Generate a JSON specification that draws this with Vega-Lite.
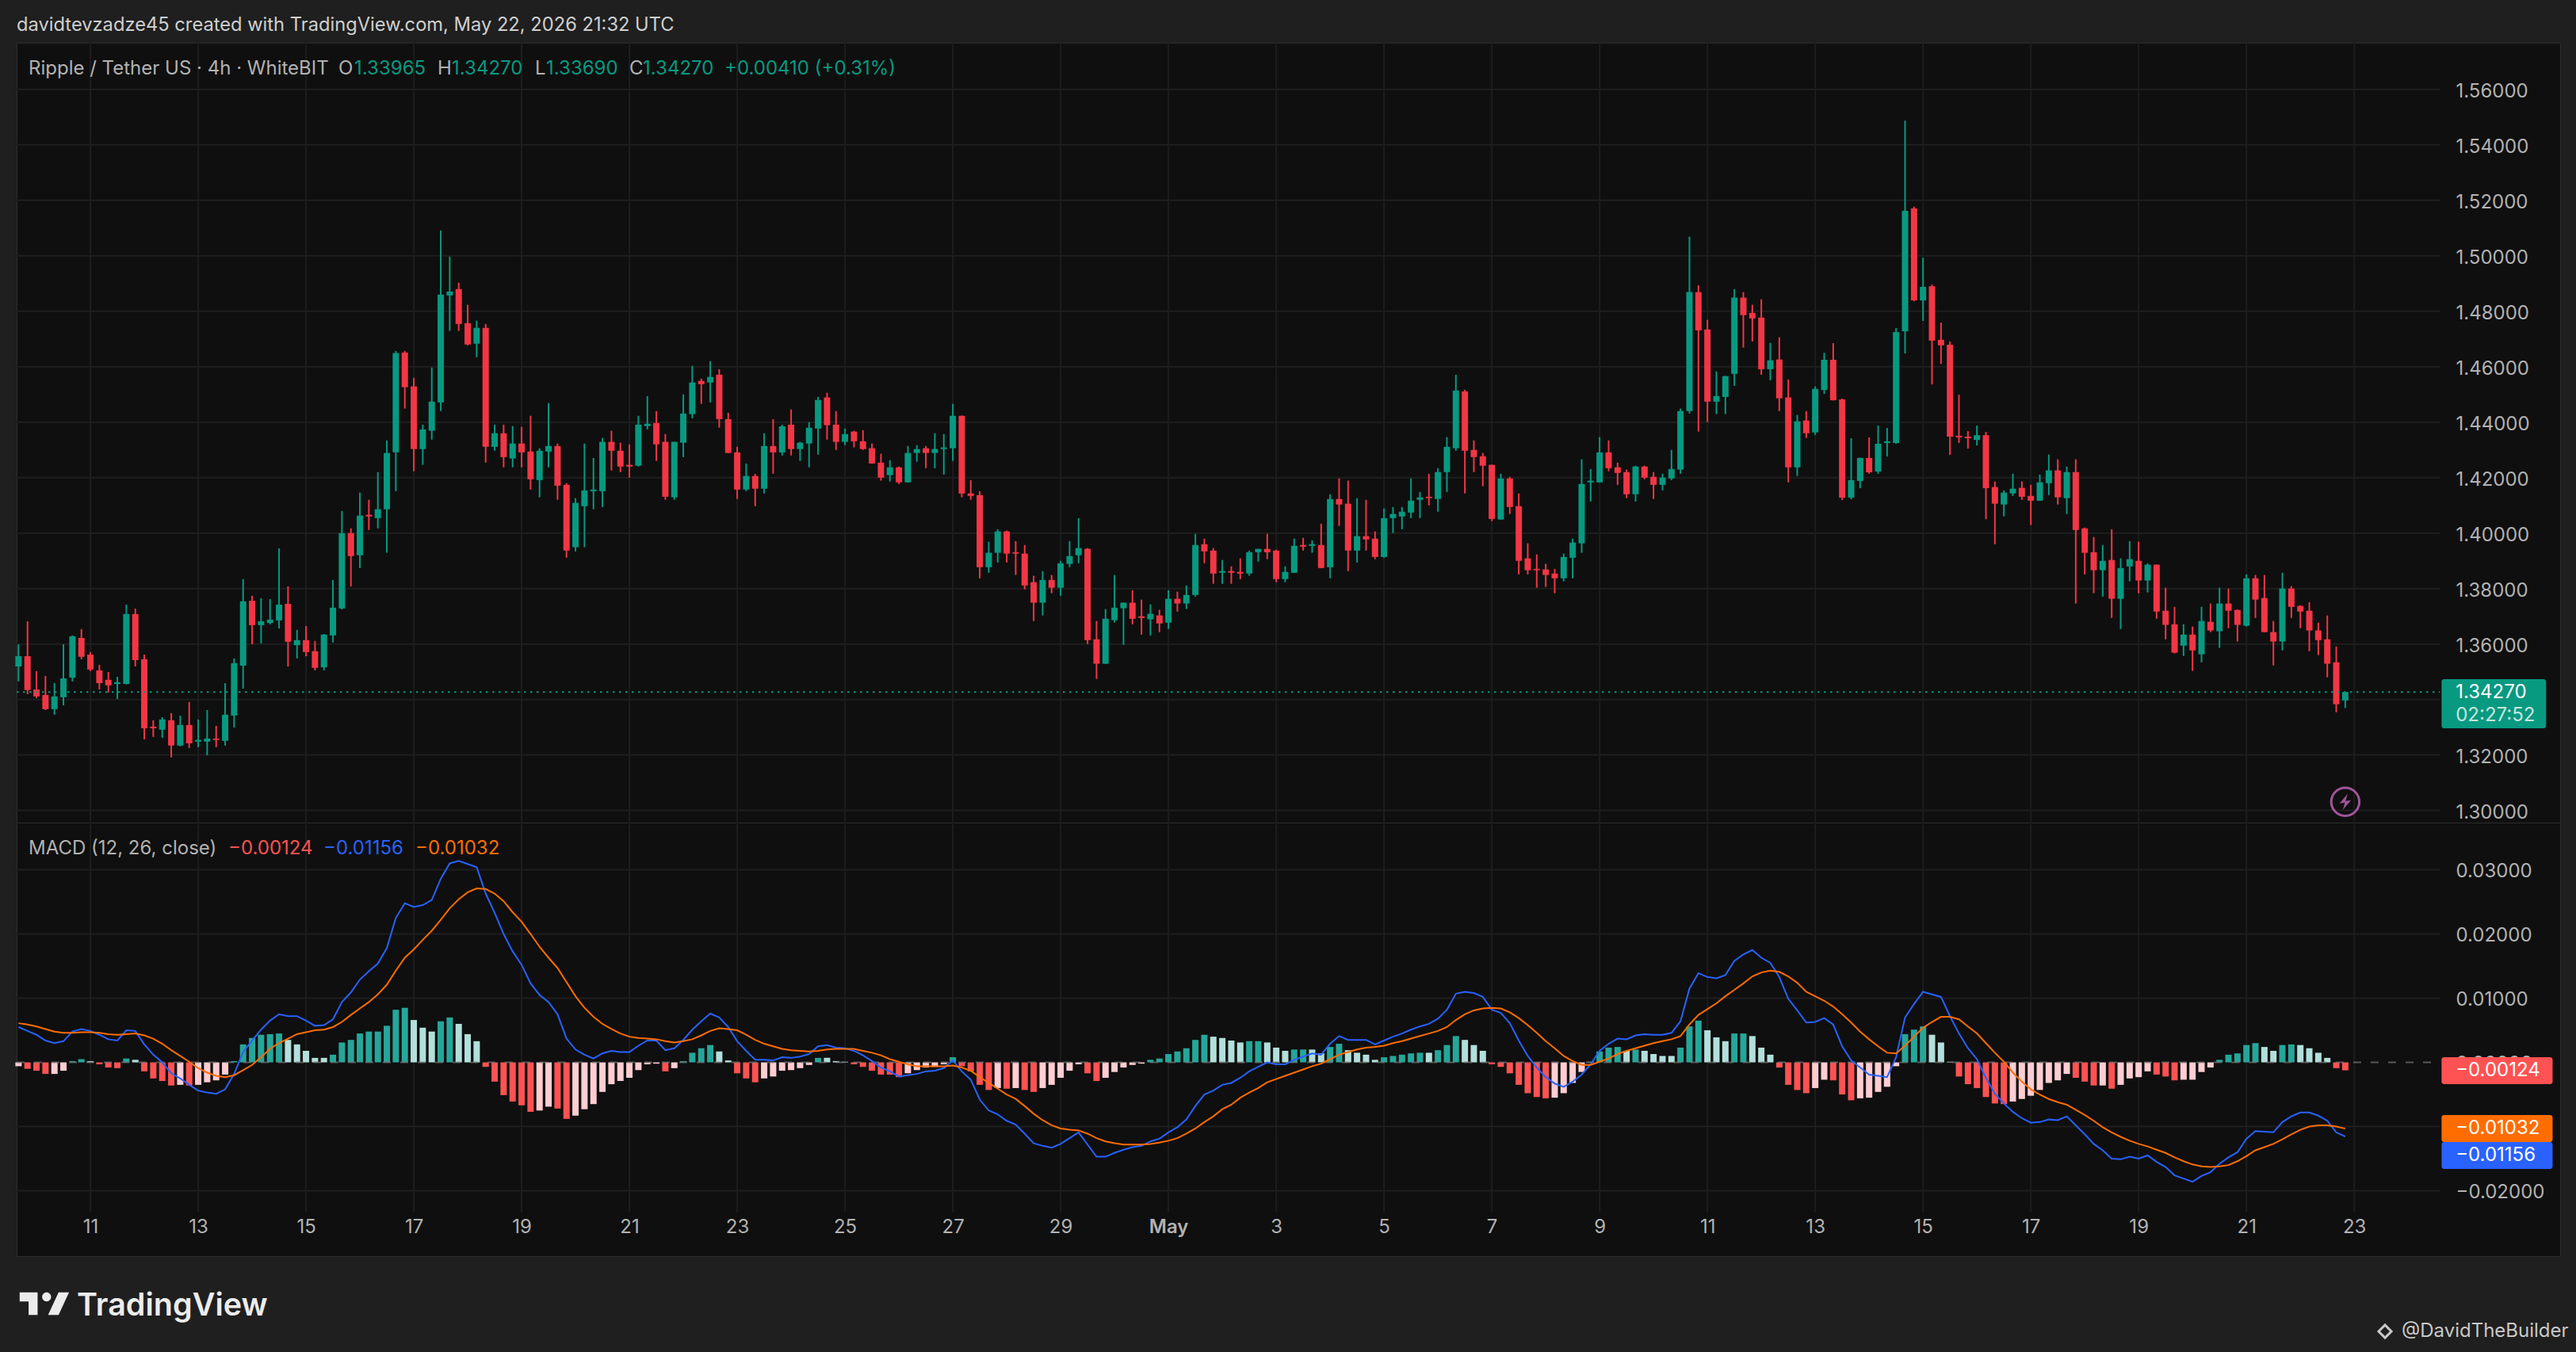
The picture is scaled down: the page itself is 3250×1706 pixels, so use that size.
{
"$schema":"https://vega.github.io/schema/vega-lite/v6.json",
"background":"#1f1f1f",
"padding":{"left":18,"right":0,"top":0,"bottom":0},
"spacing":0,
"bounds":"flush",
"resolve":{"scale":{"color":"independent"}},
"config":{"view":{"stroke":null},"text":{"font":"Inter"},"axis":{"labelFont":"Inter"}},
"datasets":{
"days":[{"t":"2026-04-11T00:00Z"},{"t":"2026-04-13T00:00Z"},{"t":"2026-04-15T00:00Z"},{"t":"2026-04-17T00:00Z"},{"t":"2026-04-19T00:00Z"},{"t":"2026-04-21T00:00Z"},{"t":"2026-04-23T00:00Z"},{"t":"2026-04-25T00:00Z"},{"t":"2026-04-27T00:00Z"},{"t":"2026-04-29T00:00Z"},{"t":"2026-05-01T00:00Z"},{"t":"2026-05-03T00:00Z"},{"t":"2026-05-05T00:00Z"},{"t":"2026-05-07T00:00Z"},{"t":"2026-05-09T00:00Z"},{"t":"2026-05-11T00:00Z"},{"t":"2026-05-13T00:00Z"},{"t":"2026-05-15T00:00Z"},{"t":"2026-05-17T00:00Z"},{"t":"2026-05-19T00:00Z"},{"t":"2026-05-21T00:00Z"},{"t":"2026-05-23T00:00Z"}],
"pgrid":[{"t":"2026-04-09T15:10Z","t2":"2026-05-24T14:08Z","p":1.30},{"t":"2026-04-09T15:10Z","t2":"2026-05-24T14:08Z","p":1.32},{"t":"2026-04-09T15:10Z","t2":"2026-05-24T14:08Z","p":1.34},{"t":"2026-04-09T15:10Z","t2":"2026-05-24T14:08Z","p":1.36},{"t":"2026-04-09T15:10Z","t2":"2026-05-24T14:08Z","p":1.38},{"t":"2026-04-09T15:10Z","t2":"2026-05-24T14:08Z","p":1.40},{"t":"2026-04-09T15:10Z","t2":"2026-05-24T14:08Z","p":1.42},{"t":"2026-04-09T15:10Z","t2":"2026-05-24T14:08Z","p":1.44},{"t":"2026-04-09T15:10Z","t2":"2026-05-24T14:08Z","p":1.46},{"t":"2026-04-09T15:10Z","t2":"2026-05-24T14:08Z","p":1.48},{"t":"2026-04-09T15:10Z","t2":"2026-05-24T14:08Z","p":1.50},{"t":"2026-04-09T15:10Z","t2":"2026-05-24T14:08Z","p":1.52},{"t":"2026-04-09T15:10Z","t2":"2026-05-24T14:08Z","p":1.54},{"t":"2026-04-09T15:10Z","t2":"2026-05-24T14:08Z","p":1.56}],
"mgrid":[{"t":"2026-04-09T15:10Z","t2":"2026-05-24T14:08Z","p":0.03},{"t":"2026-04-09T15:10Z","t2":"2026-05-24T14:08Z","p":0.02},{"t":"2026-04-09T15:10Z","t2":"2026-05-24T14:08Z","p":0.01},{"t":"2026-04-09T15:10Z","t2":"2026-05-24T14:08Z","p":-0.01},{"t":"2026-04-09T15:10Z","t2":"2026-05-24T14:08Z","p":-0.02}],
"pnote":[
{"t":"2026-04-09T20:28Z","p":1.5673,"label":"Ripple / Tether US · 4h · WhiteBIT","k":"gray"},
{"t":"2026-04-15T14:28Z","p":1.5673,"label":"O","k":"gray"},
{"t":"2026-04-15T21:32Z","p":1.5673,"label":"1.33965","k":"up"},
{"t":"2026-04-17T10:35Z","p":1.5673,"label":"H","k":"gray"},
{"t":"2026-04-17T16:56Z","p":1.5673,"label":"1.34270","k":"up"},
{"t":"2026-04-19T06:00Z","p":1.5673,"label":"L","k":"gray"},
{"t":"2026-04-19T10:56Z","p":1.5673,"label":"1.33690","k":"up"},
{"t":"2026-04-21T00:00Z","p":1.5673,"label":"C","k":"gray"},
{"t":"2026-04-21T06:00Z","p":1.5673,"label":"1.34270","k":"up"},
{"t":"2026-04-22T18:21Z","p":1.5673,"label":"+0.00410 (+0.31%)","k":"up"},
{"t":"2026-05-24T21:10Z","p":1.3426,"label":"1.34270","k":"white"},
{"t":"2026-05-24T21:10Z","p":1.3342,"label":"02:27:52","k":"dim"}],
"mnote":[
{"t":"2026-04-09T20:28Z","p":0.03327,"label":"MACD (12, 26, close)","k":"gray"},
{"t":"2026-04-13T13:25Z","p":0.03327,"label":"−0.00124","k":"D"},
{"t":"2026-04-15T07:46Z","p":0.03327,"label":"−0.01156","k":"blue"},
{"t":"2026-04-17T00:43Z","p":0.03327,"label":"−0.01032","k":"orange"}],
"mtags":[
{"t":"2026-05-24T14:53Z","t2":"2026-05-26T16:19Z","p":0.0008,"p2":-0.0034,"k":"D"},
{"t":"2026-05-24T14:53Z","t2":"2026-05-26T16:19Z","p":-0.0082,"p2":-0.0124,"k":"orange"},
{"t":"2026-05-24T14:53Z","t2":"2026-05-26T16:19Z","p":-0.0124,"p2":-0.0166,"k":"blue"}],
"mtagtext":[
{"t":"2026-05-24T21:10Z","p":-0.0013,"label":"−0.00124"},
{"t":"2026-05-24T21:10Z","p":-0.0103,"label":"−0.01032"},
{"t":"2026-05-24T21:10Z","p":-0.0145,"label":"−0.01156"}],
"bars":[
{"t":"2026-04-09T16:00Z","o":1.3519,"h":1.3599,"l":1.3465,"c":1.3556,"d":-0.0006,"m":0.0055,"s":0.0061,"k":"C"},
{"t":"2026-04-09T20:00Z","o":1.3556,"h":1.3682,"l":1.3419,"c":1.3434,"d":-0.001,"m":0.0049,"s":0.0059,"k":"D"},
{"t":"2026-04-10T00:00Z","o":1.3436,"h":1.3502,"l":1.3405,"c":1.3411,"d":-0.0013,"m":0.0043,"s":0.0056,"k":"D"},
{"t":"2026-04-10T04:00Z","o":1.3416,"h":1.3485,"l":1.3362,"c":1.3365,"d":-0.0018,"m":0.0034,"s":0.0052,"k":"D"},
{"t":"2026-04-10T08:00Z","o":1.3365,"h":1.3459,"l":1.3345,"c":1.3411,"d":-0.0018,"m":0.003,"s":0.0048,"k":"C"},
{"t":"2026-04-10T12:00Z","o":1.3408,"h":1.3599,"l":1.3379,"c":1.3476,"d":-0.0013,"m":0.0033,"s":0.0046,"k":"C"},
{"t":"2026-04-10T16:00Z","o":1.3479,"h":1.3631,"l":1.3465,"c":1.3628,"d":0.0002,"m":0.0048,"s":0.0046,"k":"A"},
{"t":"2026-04-10T20:00Z","o":1.3622,"h":1.3654,"l":1.3545,"c":1.3554,"d":0.0005,"m":0.0052,"s":0.0047,"k":"A"},
{"t":"2026-04-11T00:00Z","o":1.3562,"h":1.3571,"l":1.3502,"c":1.3508,"d":0.0002,"m":0.0049,"s":0.0047,"k":"B"},
{"t":"2026-04-11T04:00Z","o":1.3505,"h":1.3525,"l":1.3436,"c":1.3459,"d":-0.0003,"m":0.0043,"s":0.0046,"k":"D"},
{"t":"2026-04-11T08:00Z","o":1.3471,"h":1.3499,"l":1.3425,"c":1.3451,"d":-0.0008,"m":0.0036,"s":0.0044,"k":"D"},
{"t":"2026-04-11T12:00Z","o":1.3456,"h":1.3482,"l":1.3402,"c":1.3462,"d":-0.0009,"m":0.0034,"s":0.0043,"k":"D"},
{"t":"2026-04-11T16:00Z","o":1.3456,"h":1.3742,"l":1.3454,"c":1.3708,"d":0.0006,"m":0.005,"s":0.0044,"k":"A"},
{"t":"2026-04-11T20:00Z","o":1.3708,"h":1.3728,"l":1.3519,"c":1.3542,"d":0.0004,"m":0.0049,"s":0.0045,"k":"B"},
{"t":"2026-04-12T00:00Z","o":1.3545,"h":1.3562,"l":1.3256,"c":1.3296,"d":-0.0014,"m":0.0028,"s":0.0042,"k":"D"},
{"t":"2026-04-12T04:00Z","o":1.3302,"h":1.3325,"l":1.3265,"c":1.3296,"d":-0.0025,"m":0.0012,"s":0.0037,"k":"D"},
{"t":"2026-04-12T08:00Z","o":1.3291,"h":1.3336,"l":1.3262,"c":1.3328,"d":-0.0029,"m":0.0,"s":0.0029,"k":"D"},
{"t":"2026-04-12T12:00Z","o":1.3325,"h":1.3351,"l":1.3191,"c":1.3234,"d":-0.0036,"m":-0.0017,"s":0.0019,"k":"D"},
{"t":"2026-04-12T16:00Z","o":1.3234,"h":1.3342,"l":1.3231,"c":1.3308,"d":-0.0035,"m":-0.0025,"s":0.001,"k":"C"},
{"t":"2026-04-12T20:00Z","o":1.3308,"h":1.3391,"l":1.3225,"c":1.3242,"d":-0.0036,"m":-0.0035,"s":0.0001,"k":"D"},
{"t":"2026-04-13T00:00Z","o":1.3248,"h":1.3328,"l":1.3228,"c":1.3254,"d":-0.0035,"m":-0.0044,"s":-0.0009,"k":"C"},
{"t":"2026-04-13T04:00Z","o":1.3248,"h":1.3362,"l":1.3199,"c":1.3259,"d":-0.0031,"m":-0.0047,"s":-0.0016,"k":"C"},
{"t":"2026-04-13T08:00Z","o":1.3259,"h":1.3305,"l":1.3228,"c":1.3254,"d":-0.0028,"m":-0.0049,"s":-0.0021,"k":"C"},
{"t":"2026-04-13T12:00Z","o":1.3251,"h":1.3459,"l":1.3234,"c":1.3345,"d":-0.0019,"m":-0.0042,"s":-0.0023,"k":"C"},
{"t":"2026-04-13T16:00Z","o":1.3342,"h":1.3548,"l":1.3299,"c":1.3531,"d":0.0002,"m":-0.0018,"s":-0.002,"k":"A"},
{"t":"2026-04-13T20:00Z","o":1.3522,"h":1.3834,"l":1.3439,"c":1.3754,"d":0.0028,"m":0.0016,"s":-0.0012,"k":"A"},
{"t":"2026-04-14T00:00Z","o":1.3756,"h":1.3774,"l":1.3599,"c":1.3668,"d":0.0038,"m":0.0034,"s":-0.0004,"k":"A"},
{"t":"2026-04-14T04:00Z","o":1.3668,"h":1.3765,"l":1.3602,"c":1.3682,"d":0.0043,"m":0.0051,"s":0.0008,"k":"A"},
{"t":"2026-04-14T08:00Z","o":1.3676,"h":1.3762,"l":1.3671,"c":1.3688,"d":0.0044,"m":0.0065,"s":0.0021,"k":"A"},
{"t":"2026-04-14T12:00Z","o":1.3685,"h":1.3945,"l":1.3656,"c":1.3742,"d":0.0045,"m":0.0075,"s":0.003,"k":"A"},
{"t":"2026-04-14T16:00Z","o":1.3745,"h":1.3808,"l":1.3519,"c":1.3608,"d":0.0035,"m":0.0072,"s":0.0037,"k":"B"},
{"t":"2026-04-14T20:00Z","o":1.3596,"h":1.3651,"l":1.3548,"c":1.3614,"d":0.0028,"m":0.0072,"s":0.0044,"k":"B"},
{"t":"2026-04-15T00:00Z","o":1.3614,"h":1.3665,"l":1.3556,"c":1.3571,"d":0.0018,"m":0.0065,"s":0.0047,"k":"B"},
{"t":"2026-04-15T04:00Z","o":1.3574,"h":1.3611,"l":1.3505,"c":1.3514,"d":0.0007,"m":0.0057,"s":0.005,"k":"B"},
{"t":"2026-04-15T08:00Z","o":1.3516,"h":1.3636,"l":1.3505,"c":1.3634,"d":0.0007,"m":0.0058,"s":0.0051,"k":"B"},
{"t":"2026-04-15T12:00Z","o":1.3631,"h":1.3831,"l":1.3605,"c":1.3731,"d":0.0012,"m":0.0067,"s":0.0055,"k":"A"},
{"t":"2026-04-15T16:00Z","o":1.3728,"h":1.408,"l":1.3725,"c":1.4,"d":0.0031,"m":0.0094,"s":0.0063,"k":"A"},
{"t":"2026-04-15T20:00Z","o":1.4,"h":1.4017,"l":1.3808,"c":1.3917,"d":0.0035,"m":0.0109,"s":0.0074,"k":"A"},
{"t":"2026-04-16T00:00Z","o":1.392,"h":1.4146,"l":1.3874,"c":1.4063,"d":0.0045,"m":0.0129,"s":0.0084,"k":"A"},
{"t":"2026-04-16T04:00Z","o":1.4066,"h":1.412,"l":1.4011,"c":1.406,"d":0.0048,"m":0.0142,"s":0.0094,"k":"A"},
{"t":"2026-04-16T08:00Z","o":1.4054,"h":1.422,"l":1.4017,"c":1.4086,"d":0.0048,"m":0.0154,"s":0.0106,"k":"A"},
{"t":"2026-04-16T12:00Z","o":1.4086,"h":1.4334,"l":1.3929,"c":1.4289,"d":0.0057,"m":0.0178,"s":0.0121,"k":"A"},
{"t":"2026-04-16T16:00Z","o":1.4291,"h":1.4657,"l":1.4151,"c":1.4649,"d":0.0082,"m":0.0225,"s":0.0143,"k":"A"},
{"t":"2026-04-16T20:00Z","o":1.4651,"h":1.4657,"l":1.4449,"c":1.4526,"d":0.0085,"m":0.0248,"s":0.0163,"k":"A"},
{"t":"2026-04-17T00:00Z","o":1.4529,"h":1.456,"l":1.4223,"c":1.4303,"d":0.0066,"m":0.0242,"s":0.0176,"k":"B"},
{"t":"2026-04-17T04:00Z","o":1.4303,"h":1.4391,"l":1.4246,"c":1.4374,"d":0.0054,"m":0.0245,"s":0.0191,"k":"B"},
{"t":"2026-04-17T08:00Z","o":1.4369,"h":1.4597,"l":1.4337,"c":1.4474,"d":0.0048,"m":0.0253,"s":0.0205,"k":"B"},
{"t":"2026-04-17T12:00Z","o":1.4471,"h":1.5091,"l":1.444,"c":1.486,"d":0.0064,"m":0.0286,"s":0.0222,"k":"A"},
{"t":"2026-04-17T16:00Z","o":1.4857,"h":1.4997,"l":1.4729,"c":1.4871,"d":0.007,"m":0.031,"s":0.024,"k":"A"},
{"t":"2026-04-17T20:00Z","o":1.488,"h":1.4903,"l":1.4729,"c":1.4754,"d":0.006,"m":0.0314,"s":0.0254,"k":"B"},
{"t":"2026-04-18T00:00Z","o":1.4757,"h":1.4823,"l":1.4677,"c":1.468,"d":0.0044,"m":0.0309,"s":0.0265,"k":"B"},
{"t":"2026-04-18T04:00Z","o":1.4683,"h":1.4766,"l":1.4634,"c":1.474,"d":0.0033,"m":0.0304,"s":0.0271,"k":"B"},
{"t":"2026-04-18T08:00Z","o":1.474,"h":1.4754,"l":1.4254,"c":1.4311,"d":-0.0007,"m":0.0263,"s":0.027,"k":"D"},
{"t":"2026-04-18T12:00Z","o":1.4311,"h":1.4391,"l":1.4297,"c":1.436,"d":-0.003,"m":0.0233,"s":0.0263,"k":"D"},
{"t":"2026-04-18T16:00Z","o":1.436,"h":1.4391,"l":1.4237,"c":1.4274,"d":-0.0051,"m":0.02,"s":0.0251,"k":"D"},
{"t":"2026-04-18T20:00Z","o":1.4269,"h":1.4386,"l":1.4237,"c":1.4323,"d":-0.0061,"m":0.0173,"s":0.0234,"k":"D"},
{"t":"2026-04-19T00:00Z","o":1.4323,"h":1.4383,"l":1.4237,"c":1.4291,"d":-0.0067,"m":0.0152,"s":0.0219,"k":"D"},
{"t":"2026-04-19T04:00Z","o":1.4294,"h":1.4423,"l":1.4157,"c":1.4194,"d":-0.0077,"m":0.0123,"s":0.02,"k":"D"},
{"t":"2026-04-19T08:00Z","o":1.4191,"h":1.4306,"l":1.4129,"c":1.4297,"d":-0.0075,"m":0.0105,"s":0.018,"k":"C"},
{"t":"2026-04-19T12:00Z","o":1.4294,"h":1.4469,"l":1.4237,"c":1.4314,"d":-0.0069,"m":0.0094,"s":0.0163,"k":"C"},
{"t":"2026-04-19T16:00Z","o":1.4314,"h":1.4323,"l":1.412,"c":1.4171,"d":-0.0072,"m":0.0075,"s":0.0147,"k":"D"},
{"t":"2026-04-19T20:00Z","o":1.4174,"h":1.418,"l":1.3911,"c":1.3937,"d":-0.0088,"m":0.0037,"s":0.0125,"k":"D"},
{"t":"2026-04-20T00:00Z","o":1.3949,"h":1.4126,"l":1.3934,"c":1.4109,"d":-0.0083,"m":0.002,"s":0.0103,"k":"C"},
{"t":"2026-04-20T04:00Z","o":1.4097,"h":1.4323,"l":1.3949,"c":1.4154,"d":-0.0073,"m":0.0012,"s":0.0085,"k":"C"},
{"t":"2026-04-20T08:00Z","o":1.4151,"h":1.4271,"l":1.4086,"c":1.4157,"d":-0.0065,"m":0.0006,"s":0.0071,"k":"C"},
{"t":"2026-04-20T12:00Z","o":1.4151,"h":1.4343,"l":1.4094,"c":1.4329,"d":-0.0046,"m":0.0014,"s":0.006,"k":"C"},
{"t":"2026-04-20T16:00Z","o":1.4329,"h":1.4369,"l":1.4226,"c":1.4297,"d":-0.0034,"m":0.0018,"s":0.0052,"k":"C"},
{"t":"2026-04-20T20:00Z","o":1.4297,"h":1.4326,"l":1.422,"c":1.424,"d":-0.0029,"m":0.0016,"s":0.0045,"k":"C"},
{"t":"2026-04-21T00:00Z","o":1.4246,"h":1.432,"l":1.42,"c":1.424,"d":-0.0024,"m":0.0016,"s":0.004,"k":"C"},
{"t":"2026-04-21T04:00Z","o":1.4243,"h":1.4423,"l":1.424,"c":1.4391,"d":-0.0012,"m":0.0026,"s":0.0038,"k":"C"},
{"t":"2026-04-21T08:00Z","o":1.4386,"h":1.4494,"l":1.4374,"c":1.4394,"d":-0.0003,"m":0.0034,"s":0.0037,"k":"C"},
{"t":"2026-04-21T12:00Z","o":1.4397,"h":1.444,"l":1.426,"c":1.432,"d":-0.0002,"m":0.0034,"s":0.0036,"k":"C"},
{"t":"2026-04-21T16:00Z","o":1.4329,"h":1.4357,"l":1.412,"c":1.4131,"d":-0.0014,"m":0.0019,"s":0.0033,"k":"D"},
{"t":"2026-04-21T20:00Z","o":1.4129,"h":1.4329,"l":1.412,"c":1.4329,"d":-0.0009,"m":0.0022,"s":0.0031,"k":"C"},
{"t":"2026-04-22T00:00Z","o":1.4326,"h":1.45,"l":1.4274,"c":1.4431,"d":0.0002,"m":0.0035,"s":0.0033,"k":"A"},
{"t":"2026-04-22T04:00Z","o":1.4429,"h":1.4603,"l":1.4414,"c":1.4543,"d":0.0015,"m":0.0051,"s":0.0036,"k":"A"},
{"t":"2026-04-22T08:00Z","o":1.4549,"h":1.4557,"l":1.4466,"c":1.4537,"d":0.0022,"m":0.0064,"s":0.0042,"k":"A"},
{"t":"2026-04-22T12:00Z","o":1.4543,"h":1.462,"l":1.4471,"c":1.4563,"d":0.0027,"m":0.0076,"s":0.0049,"k":"A"},
{"t":"2026-04-22T16:00Z","o":1.4571,"h":1.4591,"l":1.438,"c":1.4411,"d":0.0017,"m":0.007,"s":0.0053,"k":"B"},
{"t":"2026-04-22T20:00Z","o":1.4411,"h":1.4434,"l":1.4288,"c":1.4289,"d":0.0003,"m":0.0055,"s":0.0052,"k":"B"},
{"t":"2026-04-23T00:00Z","o":1.4291,"h":1.4311,"l":1.4123,"c":1.4157,"d":-0.0017,"m":0.0033,"s":0.005,"k":"D"},
{"t":"2026-04-23T04:00Z","o":1.4157,"h":1.4251,"l":1.4151,"c":1.4206,"d":-0.0025,"m":0.0018,"s":0.0043,"k":"D"},
{"t":"2026-04-23T08:00Z","o":1.4206,"h":1.4214,"l":1.4097,"c":1.416,"d":-0.0031,"m":0.0004,"s":0.0035,"k":"D"},
{"t":"2026-04-23T12:00Z","o":1.416,"h":1.436,"l":1.4143,"c":1.4314,"d":-0.0025,"m":0.0004,"s":0.0029,"k":"C"},
{"t":"2026-04-23T16:00Z","o":1.4314,"h":1.4411,"l":1.4214,"c":1.4291,"d":-0.0022,"m":0.0003,"s":0.0025,"k":"C"},
{"t":"2026-04-23T20:00Z","o":1.4291,"h":1.4391,"l":1.428,"c":1.4385,"d":-0.0013,"m":0.0008,"s":0.0021,"k":"C"},
{"t":"2026-04-24T00:00Z","o":1.4391,"h":1.4446,"l":1.428,"c":1.4303,"d":-0.0012,"m":0.0007,"s":0.0019,"k":"C"},
{"t":"2026-04-24T04:00Z","o":1.4303,"h":1.4329,"l":1.426,"c":1.4326,"d":-0.0009,"m":0.0009,"s":0.0018,"k":"C"},
{"t":"2026-04-24T08:00Z","o":1.4323,"h":1.44,"l":1.4237,"c":1.438,"d":-0.0004,"m":0.0013,"s":0.0017,"k":"C"},
{"t":"2026-04-24T12:00Z","o":1.4377,"h":1.4491,"l":1.4283,"c":1.448,"d":0.0007,"m":0.0025,"s":0.0018,"k":"A"},
{"t":"2026-04-24T16:00Z","o":1.4489,"h":1.4506,"l":1.4337,"c":1.4389,"d":0.0007,"m":0.0027,"s":0.002,"k":"B"},
{"t":"2026-04-24T20:00Z","o":1.4391,"h":1.444,"l":1.43,"c":1.4329,"d":0.0002,"m":0.0023,"s":0.0021,"k":"B"},
{"t":"2026-04-25T00:00Z","o":1.4329,"h":1.4377,"l":1.4317,"c":1.4357,"d":0.0001,"m":0.0022,"s":0.0021,"k":"B"},
{"t":"2026-04-25T04:00Z","o":1.4366,"h":1.4369,"l":1.4309,"c":1.4331,"d":-0.0003,"m":0.0018,"s":0.0021,"k":"D"},
{"t":"2026-04-25T08:00Z","o":1.4331,"h":1.4371,"l":1.43,"c":1.4303,"d":-0.0007,"m":0.0011,"s":0.0018,"k":"D"},
{"t":"2026-04-25T12:00Z","o":1.4306,"h":1.4323,"l":1.425,"c":1.4251,"d":-0.0013,"m":0.0002,"s":0.0015,"k":"D"},
{"t":"2026-04-25T16:00Z","o":1.4254,"h":1.4286,"l":1.4189,"c":1.42,"d":-0.0019,"m":-0.0008,"s":0.0011,"k":"D"},
{"t":"2026-04-25T20:00Z","o":1.4209,"h":1.4263,"l":1.4186,"c":1.4237,"d":-0.0019,"m":-0.0014,"s":0.0005,"k":"D"},
{"t":"2026-04-26T00:00Z","o":1.4237,"h":1.424,"l":1.4177,"c":1.4183,"d":-0.0023,"m":-0.0022,"s":0.0001,"k":"D"},
{"t":"2026-04-26T04:00Z","o":1.4183,"h":1.4314,"l":1.4182,"c":1.4289,"d":-0.0017,"m":-0.002,"s":-0.0003,"k":"C"},
{"t":"2026-04-26T08:00Z","o":1.4289,"h":1.4317,"l":1.4257,"c":1.4303,"d":-0.0012,"m":-0.0018,"s":-0.0006,"k":"C"},
{"t":"2026-04-26T12:00Z","o":1.4306,"h":1.4314,"l":1.4234,"c":1.4289,"d":-0.0008,"m":-0.0014,"s":-0.0006,"k":"C"},
{"t":"2026-04-26T16:00Z","o":1.4289,"h":1.436,"l":1.4234,"c":1.4303,"d":-0.0007,"m":-0.0013,"s":-0.0006,"k":"C"},
{"t":"2026-04-26T20:00Z","o":1.4303,"h":1.4357,"l":1.4211,"c":1.4309,"d":-0.0003,"m":-0.0009,"s":-0.0006,"k":"C"},
{"t":"2026-04-27T00:00Z","o":1.4306,"h":1.4466,"l":1.426,"c":1.4423,"d":0.0008,"m":0.0003,"s":-0.0005,"k":"A"},
{"t":"2026-04-27T04:00Z","o":1.4423,"h":1.4424,"l":1.4129,"c":1.4143,"d":-0.0006,"m":-0.0014,"s":-0.0008,"k":"D"},
{"t":"2026-04-27T08:00Z","o":1.4143,"h":1.4191,"l":1.412,"c":1.4134,"d":-0.0014,"m":-0.0027,"s":-0.0013,"k":"D"},
{"t":"2026-04-27T12:00Z","o":1.4137,"h":1.4151,"l":1.3837,"c":1.3877,"d":-0.0035,"m":-0.0058,"s":-0.0023,"k":"D"},
{"t":"2026-04-27T16:00Z","o":1.3877,"h":1.3969,"l":1.3857,"c":1.3929,"d":-0.0043,"m":-0.0075,"s":-0.0032,"k":"D"},
{"t":"2026-04-27T20:00Z","o":1.3929,"h":1.4014,"l":1.3894,"c":1.4006,"d":-0.004,"m":-0.0081,"s":-0.0041,"k":"C"},
{"t":"2026-04-28T00:00Z","o":1.4006,"h":1.4009,"l":1.3894,"c":1.3926,"d":-0.0041,"m":-0.0091,"s":-0.005,"k":"D"},
{"t":"2026-04-28T04:00Z","o":1.3931,"h":1.3971,"l":1.3849,"c":1.3926,"d":-0.004,"m":-0.0097,"s":-0.0057,"k":"C"},
{"t":"2026-04-28T08:00Z","o":1.3926,"h":1.3957,"l":1.3797,"c":1.3811,"d":-0.0043,"m":-0.0111,"s":-0.0068,"k":"D"},
{"t":"2026-04-28T12:00Z","o":1.3823,"h":1.3846,"l":1.3683,"c":1.3749,"d":-0.0046,"m":-0.0126,"s":-0.008,"k":"D"},
{"t":"2026-04-28T16:00Z","o":1.3749,"h":1.3863,"l":1.3703,"c":1.3831,"d":-0.004,"m":-0.013,"s":-0.009,"k":"C"},
{"t":"2026-04-28T20:00Z","o":1.3831,"h":1.3849,"l":1.3783,"c":1.3803,"d":-0.0035,"m":-0.0133,"s":-0.0098,"k":"C"},
{"t":"2026-04-29T00:00Z","o":1.3803,"h":1.39,"l":1.3774,"c":1.3891,"d":-0.0024,"m":-0.0127,"s":-0.0103,"k":"C"},
{"t":"2026-04-29T04:00Z","o":1.3889,"h":1.3971,"l":1.3877,"c":1.3917,"d":-0.0013,"m":-0.0118,"s":-0.0105,"k":"C"},
{"t":"2026-04-29T08:00Z","o":1.392,"h":1.4054,"l":1.3891,"c":1.3946,"d":-0.0003,"m":-0.0109,"s":-0.0106,"k":"C"},
{"t":"2026-04-29T12:00Z","o":1.3943,"h":1.3946,"l":1.36,"c":1.3614,"d":-0.0017,"m":-0.0128,"s":-0.0111,"k":"D"},
{"t":"2026-04-29T16:00Z","o":1.3617,"h":1.3683,"l":1.3474,"c":1.3529,"d":-0.0029,"m":-0.0147,"s":-0.0118,"k":"D"},
{"t":"2026-04-29T20:00Z","o":1.3529,"h":1.3726,"l":1.3528,"c":1.3691,"d":-0.0024,"m":-0.0147,"s":-0.0123,"k":"C"},
{"t":"2026-04-30T00:00Z","o":1.3686,"h":1.3849,"l":1.3677,"c":1.3731,"d":-0.0015,"m":-0.0141,"s":-0.0126,"k":"C"},
{"t":"2026-04-30T04:00Z","o":1.3729,"h":1.375,"l":1.3597,"c":1.3749,"d":-0.0008,"m":-0.0136,"s":-0.0128,"k":"C"},
{"t":"2026-04-30T08:00Z","o":1.3749,"h":1.3794,"l":1.3671,"c":1.3691,"d":-0.0004,"m":-0.0132,"s":-0.0128,"k":"C"},
{"t":"2026-04-30T12:00Z","o":1.37,"h":1.376,"l":1.3634,"c":1.3694,"d":-0.0002,"m":-0.013,"s":-0.0128,"k":"C"},
{"t":"2026-04-30T16:00Z","o":1.3689,"h":1.3743,"l":1.3631,"c":1.3709,"d":0.0004,"m":-0.0123,"s":-0.0127,"k":"A"},
{"t":"2026-04-30T20:00Z","o":1.3703,"h":1.3723,"l":1.3643,"c":1.3674,"d":0.0006,"m":-0.0119,"s":-0.0125,"k":"A"},
{"t":"2026-05-01T00:00Z","o":1.3677,"h":1.3794,"l":1.3654,"c":1.3763,"d":0.0013,"m":-0.0109,"s":-0.0122,"k":"A"},
{"t":"2026-05-01T04:00Z","o":1.3763,"h":1.3789,"l":1.3717,"c":1.3746,"d":0.0017,"m":-0.0101,"s":-0.0118,"k":"A"},
{"t":"2026-05-01T08:00Z","o":1.3746,"h":1.3811,"l":1.3726,"c":1.3777,"d":0.0022,"m":-0.0089,"s":-0.0111,"k":"A"},
{"t":"2026-05-01T12:00Z","o":1.3777,"h":1.3997,"l":1.3771,"c":1.3957,"d":0.0035,"m":-0.0068,"s":-0.0103,"k":"A"},
{"t":"2026-05-01T16:00Z","o":1.396,"h":1.398,"l":1.3891,"c":1.3934,"d":0.0043,"m":-0.005,"s":-0.0093,"k":"A"},
{"t":"2026-05-01T20:00Z","o":1.3937,"h":1.3946,"l":1.3817,"c":1.3854,"d":0.004,"m":-0.0044,"s":-0.0084,"k":"B"},
{"t":"2026-05-02T00:00Z","o":1.3857,"h":1.3903,"l":1.3817,"c":1.3863,"d":0.0038,"m":-0.0035,"s":-0.0073,"k":"B"},
{"t":"2026-05-02T04:00Z","o":1.3863,"h":1.388,"l":1.3817,"c":1.3857,"d":0.0034,"m":-0.0032,"s":-0.0066,"k":"B"},
{"t":"2026-05-02T08:00Z","o":1.386,"h":1.3909,"l":1.3834,"c":1.3854,"d":0.0031,"m":-0.0024,"s":-0.0055,"k":"B"},
{"t":"2026-05-02T12:00Z","o":1.3854,"h":1.3937,"l":1.3846,"c":1.3931,"d":0.0033,"m":-0.0014,"s":-0.0047,"k":"A"},
{"t":"2026-05-02T16:00Z","o":1.3931,"h":1.3943,"l":1.3897,"c":1.3943,"d":0.0033,"m":-0.0007,"s":-0.004,"k":"A"},
{"t":"2026-05-02T20:00Z","o":1.3943,"h":1.3997,"l":1.3906,"c":1.3931,"d":0.0031,"m":0.0,"s":-0.0031,"k":"B"},
{"t":"2026-05-03T00:00Z","o":1.3937,"h":1.394,"l":1.3823,"c":1.3834,"d":0.0023,"m":-0.0003,"s":-0.0026,"k":"B"},
{"t":"2026-05-03T04:00Z","o":1.3834,"h":1.388,"l":1.3823,"c":1.386,"d":0.0018,"m":-0.0003,"s":-0.0021,"k":"B"},
{"t":"2026-05-03T08:00Z","o":1.3857,"h":1.398,"l":1.3856,"c":1.3954,"d":0.002,"m":0.0004,"s":-0.0016,"k":"A"},
{"t":"2026-05-03T12:00Z","o":1.3957,"h":1.3983,"l":1.3937,"c":1.3951,"d":0.002,"m":0.0009,"s":-0.0011,"k":"A"},
{"t":"2026-05-03T16:00Z","o":1.3954,"h":1.3974,"l":1.3929,"c":1.396,"d":0.002,"m":0.0014,"s":-0.0006,"k":"B"},
{"t":"2026-05-03T20:00Z","o":1.3957,"h":1.4034,"l":1.3873,"c":1.3874,"d":0.0014,"m":0.0012,"s":-0.0002,"k":"B"},
{"t":"2026-05-04T00:00Z","o":1.3877,"h":1.414,"l":1.3837,"c":1.4123,"d":0.0024,"m":0.0029,"s":0.0005,"k":"A"},
{"t":"2026-05-04T04:00Z","o":1.4123,"h":1.4197,"l":1.4026,"c":1.4103,"d":0.0029,"m":0.0041,"s":0.0012,"k":"A"},
{"t":"2026-05-04T08:00Z","o":1.4106,"h":1.4189,"l":1.3863,"c":1.3937,"d":0.0019,"m":0.0035,"s":0.0016,"k":"B"},
{"t":"2026-05-04T12:00Z","o":1.3937,"h":1.4126,"l":1.3894,"c":1.3989,"d":0.0015,"m":0.0035,"s":0.002,"k":"B"},
{"t":"2026-05-04T16:00Z","o":1.3989,"h":1.412,"l":1.3937,"c":1.3977,"d":0.0012,"m":0.0035,"s":0.0023,"k":"B"},
{"t":"2026-05-04T20:00Z","o":1.398,"h":1.4006,"l":1.3906,"c":1.3914,"d":0.0004,"m":0.0028,"s":0.0024,"k":"B"},
{"t":"2026-05-05T00:00Z","o":1.3914,"h":1.4089,"l":1.3911,"c":1.4054,"d":0.0008,"m":0.0034,"s":0.0026,"k":"A"},
{"t":"2026-05-05T04:00Z","o":1.4054,"h":1.4094,"l":1.4,"c":1.4069,"d":0.001,"m":0.004,"s":0.003,"k":"A"},
{"t":"2026-05-05T08:00Z","o":1.406,"h":1.4094,"l":1.4014,"c":1.4077,"d":0.0012,"m":0.0045,"s":0.0033,"k":"A"},
{"t":"2026-05-05T12:00Z","o":1.4074,"h":1.4197,"l":1.4054,"c":1.4117,"d":0.0014,"m":0.0051,"s":0.0037,"k":"A"},
{"t":"2026-05-05T16:00Z","o":1.412,"h":1.4148,"l":1.4054,"c":1.4129,"d":0.0015,"m":0.0056,"s":0.0041,"k":"A"},
{"t":"2026-05-05T20:00Z","o":1.4131,"h":1.4214,"l":1.41,"c":1.4126,"d":0.0015,"m":0.006,"s":0.0045,"k":"B"},
{"t":"2026-05-06T00:00Z","o":1.4123,"h":1.4234,"l":1.4077,"c":1.422,"d":0.0019,"m":0.0068,"s":0.0049,"k":"A"},
{"t":"2026-05-06T04:00Z","o":1.422,"h":1.4346,"l":1.4148,"c":1.4311,"d":0.0027,"m":0.0082,"s":0.0055,"k":"A"},
{"t":"2026-05-06T08:00Z","o":1.4306,"h":1.4571,"l":1.4297,"c":1.4514,"d":0.0041,"m":0.0107,"s":0.0066,"k":"A"},
{"t":"2026-05-06T12:00Z","o":1.4511,"h":1.4517,"l":1.4143,"c":1.4297,"d":0.0035,"m":0.011,"s":0.0075,"k":"B"},
{"t":"2026-05-06T16:00Z","o":1.43,"h":1.4334,"l":1.422,"c":1.4274,"d":0.0027,"m":0.0108,"s":0.0081,"k":"B"},
{"t":"2026-05-06T20:00Z","o":1.4277,"h":1.4289,"l":1.4169,"c":1.4243,"d":0.0018,"m":0.0102,"s":0.0084,"k":"B"},
{"t":"2026-05-07T00:00Z","o":1.4246,"h":1.4247,"l":1.4043,"c":1.4051,"d":-0.0003,"m":0.0082,"s":0.0085,"k":"D"},
{"t":"2026-05-07T04:00Z","o":1.4049,"h":1.4214,"l":1.4048,"c":1.4197,"d":-0.0007,"m":0.0077,"s":0.0084,"k":"D"},
{"t":"2026-05-07T08:00Z","o":1.4197,"h":1.4203,"l":1.4069,"c":1.4094,"d":-0.0017,"m":0.0061,"s":0.0078,"k":"D"},
{"t":"2026-05-07T12:00Z","o":1.4097,"h":1.4143,"l":1.3851,"c":1.39,"d":-0.0035,"m":0.0034,"s":0.0069,"k":"D"},
{"t":"2026-05-07T16:00Z","o":1.3909,"h":1.3963,"l":1.3851,"c":1.3866,"d":-0.0048,"m":0.001,"s":0.0058,"k":"D"},
{"t":"2026-05-07T20:00Z","o":1.3871,"h":1.3923,"l":1.3803,"c":1.3866,"d":-0.0054,"m":-0.0008,"s":0.0046,"k":"D"},
{"t":"2026-05-08T00:00Z","o":1.3869,"h":1.3889,"l":1.3806,"c":1.3849,"d":-0.0056,"m":-0.0023,"s":0.0033,"k":"D"},
{"t":"2026-05-08T04:00Z","o":1.3854,"h":1.3871,"l":1.3783,"c":1.3837,"d":-0.0055,"m":-0.0033,"s":0.0022,"k":"C"},
{"t":"2026-05-08T08:00Z","o":1.3837,"h":1.3926,"l":1.3826,"c":1.3914,"d":-0.0048,"m":-0.0038,"s":0.001,"k":"C"},
{"t":"2026-05-08T12:00Z","o":1.3911,"h":1.398,"l":1.3837,"c":1.3966,"d":-0.0032,"m":-0.003,"s":0.0002,"k":"C"},
{"t":"2026-05-08T16:00Z","o":1.3963,"h":1.4266,"l":1.3929,"c":1.4177,"d":-0.0015,"m":-0.0019,"s":-0.0004,"k":"C"},
{"t":"2026-05-08T20:00Z","o":1.4183,"h":1.4231,"l":1.4114,"c":1.4189,"d":0.0001,"m":-0.0003,"s":-0.0004,"k":"A"},
{"t":"2026-05-09T00:00Z","o":1.4183,"h":1.4346,"l":1.4182,"c":1.4291,"d":0.0017,"m":0.0018,"s":0.0001,"k":"A"},
{"t":"2026-05-09T04:00Z","o":1.4291,"h":1.4334,"l":1.4223,"c":1.4234,"d":0.0023,"m":0.0029,"s":0.0006,"k":"A"},
{"t":"2026-05-09T08:00Z","o":1.4237,"h":1.4254,"l":1.4174,"c":1.4217,"d":0.0024,"m":0.0037,"s":0.0013,"k":"A"},
{"t":"2026-05-09T12:00Z","o":1.422,"h":1.4229,"l":1.4126,"c":1.414,"d":0.0018,"m":0.0036,"s":0.0018,"k":"B"},
{"t":"2026-05-09T16:00Z","o":1.414,"h":1.4243,"l":1.4114,"c":1.424,"d":0.002,"m":0.0042,"s":0.0022,"k":"A"},
{"t":"2026-05-09T20:00Z","o":1.424,"h":1.4243,"l":1.4194,"c":1.42,"d":0.0018,"m":0.0044,"s":0.0026,"k":"B"},
{"t":"2026-05-10T00:00Z","o":1.4203,"h":1.422,"l":1.4123,"c":1.4174,"d":0.0013,"m":0.0043,"s":0.003,"k":"B"},
{"t":"2026-05-10T04:00Z","o":1.4174,"h":1.4214,"l":1.4154,"c":1.42,"d":0.001,"m":0.0043,"s":0.0033,"k":"B"},
{"t":"2026-05-10T08:00Z","o":1.4197,"h":1.43,"l":1.4191,"c":1.4231,"d":0.001,"m":0.0046,"s":0.0036,"k":"B"},
{"t":"2026-05-10T12:00Z","o":1.4229,"h":1.4449,"l":1.4214,"c":1.444,"d":0.0023,"m":0.0064,"s":0.0041,"k":"A"},
{"t":"2026-05-10T16:00Z","o":1.444,"h":1.5069,"l":1.4431,"c":1.4869,"d":0.0056,"m":0.0115,"s":0.0059,"k":"A"},
{"t":"2026-05-10T20:00Z","o":1.4869,"h":1.4894,"l":1.4366,"c":1.4731,"d":0.0065,"m":0.0139,"s":0.0074,"k":"A"},
{"t":"2026-05-11T00:00Z","o":1.4734,"h":1.4769,"l":1.44,"c":1.4474,"d":0.005,"m":0.0133,"s":0.0083,"k":"B"},
{"t":"2026-05-11T04:00Z","o":1.4474,"h":1.4583,"l":1.4429,"c":1.4494,"d":0.0039,"m":0.0131,"s":0.0092,"k":"B"},
{"t":"2026-05-11T08:00Z","o":1.4491,"h":1.4567,"l":1.4429,"c":1.4566,"d":0.0033,"m":0.0136,"s":0.0103,"k":"B"},
{"t":"2026-05-11T12:00Z","o":1.4574,"h":1.488,"l":1.4531,"c":1.4849,"d":0.0045,"m":0.0158,"s":0.0113,"k":"A"},
{"t":"2026-05-11T16:00Z","o":1.4849,"h":1.4869,"l":1.4669,"c":1.4786,"d":0.0045,"m":0.0168,"s":0.0123,"k":"A"},
{"t":"2026-05-11T20:00Z","o":1.4794,"h":1.4823,"l":1.4691,"c":1.4774,"d":0.0041,"m":0.0175,"s":0.0134,"k":"B"},
{"t":"2026-05-12T00:00Z","o":1.4777,"h":1.4843,"l":1.4571,"c":1.4591,"d":0.0023,"m":0.0163,"s":0.014,"k":"B"},
{"t":"2026-05-12T04:00Z","o":1.4591,"h":1.4686,"l":1.4551,"c":1.4623,"d":0.0012,"m":0.0155,"s":0.0143,"k":"B"},
{"t":"2026-05-12T08:00Z","o":1.4626,"h":1.4706,"l":1.444,"c":1.4486,"d":-0.0008,"m":0.0133,"s":0.0141,"k":"D"},
{"t":"2026-05-12T12:00Z","o":1.4489,"h":1.4554,"l":1.4183,"c":1.4237,"d":-0.0035,"m":0.0099,"s":0.0134,"k":"D"},
{"t":"2026-05-12T16:00Z","o":1.4237,"h":1.4426,"l":1.4206,"c":1.4403,"d":-0.0043,"m":0.0081,"s":0.0124,"k":"D"},
{"t":"2026-05-12T20:00Z","o":1.4406,"h":1.444,"l":1.4343,"c":1.436,"d":-0.0048,"m":0.0062,"s":0.011,"k":"D"},
{"t":"2026-05-13T00:00Z","o":1.4363,"h":1.4529,"l":1.4354,"c":1.452,"d":-0.004,"m":0.0063,"s":0.0103,"k":"C"},
{"t":"2026-05-13T04:00Z","o":1.4516,"h":1.465,"l":1.4502,"c":1.4625,"d":-0.0027,"m":0.0069,"s":0.0096,"k":"C"},
{"t":"2026-05-13T08:00Z","o":1.4625,"h":1.4685,"l":1.4478,"c":1.4479,"d":-0.0028,"m":0.0059,"s":0.0087,"k":"D"},
{"t":"2026-05-13T12:00Z","o":1.4482,"h":1.4485,"l":1.4119,"c":1.4128,"d":-0.005,"m":0.0025,"s":0.0075,"k":"D"},
{"t":"2026-05-13T16:00Z","o":1.4128,"h":1.4342,"l":1.4122,"c":1.4191,"d":-0.0059,"m":0.0003,"s":0.0062,"k":"D"},
{"t":"2026-05-13T20:00Z","o":1.4188,"h":1.4272,"l":1.4162,"c":1.4271,"d":-0.0056,"m":-0.0008,"s":0.0048,"k":"C"},
{"t":"2026-05-14T00:00Z","o":1.4271,"h":1.4345,"l":1.4214,"c":1.4219,"d":-0.0055,"m":-0.0019,"s":0.0036,"k":"C"},
{"t":"2026-05-14T04:00Z","o":1.4222,"h":1.4388,"l":1.4214,"c":1.4322,"d":-0.0046,"m":-0.0021,"s":0.0025,"k":"C"},
{"t":"2026-05-14T08:00Z","o":1.4325,"h":1.4379,"l":1.4276,"c":1.4331,"d":-0.0038,"m":-0.0023,"s":0.0015,"k":"C"},
{"t":"2026-05-14T12:00Z","o":1.4325,"h":1.4739,"l":1.4322,"c":1.4725,"d":-0.0006,"m":0.0008,"s":0.0014,"k":"C"},
{"t":"2026-05-14T16:00Z","o":1.4728,"h":1.5487,"l":1.4648,"c":1.5162,"d":0.0044,"m":0.007,"s":0.0026,"k":"A"},
{"t":"2026-05-14T20:00Z","o":1.5171,"h":1.5177,"l":1.4836,"c":1.4839,"d":0.0051,"m":0.0091,"s":0.004,"k":"A"},
{"t":"2026-05-15T00:00Z","o":1.4839,"h":1.4993,"l":1.4765,"c":1.4888,"d":0.0056,"m":0.011,"s":0.0054,"k":"A"},
{"t":"2026-05-15T04:00Z","o":1.489,"h":1.4896,"l":1.4536,"c":1.4694,"d":0.0043,"m":0.0106,"s":0.0063,"k":"B"},
{"t":"2026-05-15T08:00Z","o":1.4697,"h":1.4759,"l":1.461,"c":1.4677,"d":0.0031,"m":0.0102,"s":0.0071,"k":"B"},
{"t":"2026-05-15T12:00Z","o":1.4679,"h":1.4691,"l":1.4282,"c":1.4348,"d":0.0001,"m":0.0072,"s":0.0071,"k":"B"},
{"t":"2026-05-15T16:00Z","o":1.4351,"h":1.4499,"l":1.4325,"c":1.4345,"d":-0.0022,"m":0.0045,"s":0.0067,"k":"D"},
{"t":"2026-05-15T20:00Z","o":1.4348,"h":1.4368,"l":1.4305,"c":1.4342,"d":-0.0034,"m":0.0022,"s":0.0056,"k":"D"},
{"t":"2026-05-16T00:00Z","o":1.4336,"h":1.4388,"l":1.4316,"c":1.4353,"d":-0.004,"m":0.0005,"s":0.0045,"k":"D"},
{"t":"2026-05-16T04:00Z","o":1.4353,"h":1.4365,"l":1.405,"c":1.4162,"d":-0.0054,"m":-0.0024,"s":0.003,"k":"D"},
{"t":"2026-05-16T08:00Z","o":1.4166,"h":1.4186,"l":1.396,"c":1.4106,"d":-0.0064,"m":-0.0049,"s":0.0015,"k":"D"},
{"t":"2026-05-16T12:00Z","o":1.4103,"h":1.4154,"l":1.406,"c":1.4146,"d":-0.0065,"m":-0.0064,"s":0.0001,"k":"D"},
{"t":"2026-05-16T16:00Z","o":1.4143,"h":1.4214,"l":1.4134,"c":1.416,"d":-0.0061,"m":-0.0077,"s":-0.0016,"k":"C"},
{"t":"2026-05-16T20:00Z","o":1.4163,"h":1.4186,"l":1.412,"c":1.4131,"d":-0.0057,"m":-0.0087,"s":-0.003,"k":"C"},
{"t":"2026-05-17T00:00Z","o":1.4134,"h":1.4174,"l":1.4029,"c":1.4117,"d":-0.0052,"m":-0.0094,"s":-0.0042,"k":"C"},
{"t":"2026-05-17T04:00Z","o":1.4117,"h":1.4211,"l":1.4116,"c":1.4183,"d":-0.0043,"m":-0.0093,"s":-0.005,"k":"C"},
{"t":"2026-05-17T08:00Z","o":1.418,"h":1.4283,"l":1.4137,"c":1.4226,"d":-0.0032,"m":-0.0089,"s":-0.0057,"k":"C"},
{"t":"2026-05-17T12:00Z","o":1.4226,"h":1.4266,"l":1.4103,"c":1.4129,"d":-0.0028,"m":-0.009,"s":-0.0062,"k":"C"},
{"t":"2026-05-17T16:00Z","o":1.4126,"h":1.424,"l":1.4069,"c":1.422,"d":-0.0018,"m":-0.0084,"s":-0.0066,"k":"C"},
{"t":"2026-05-17T20:00Z","o":1.422,"h":1.4266,"l":1.3746,"c":1.4011,"d":-0.0024,"m":-0.0098,"s":-0.0074,"k":"D"},
{"t":"2026-05-18T00:00Z","o":1.4017,"h":1.402,"l":1.3851,"c":1.3929,"d":-0.003,"m":-0.0112,"s":-0.0082,"k":"D"},
{"t":"2026-05-18T04:00Z","o":1.3931,"h":1.3986,"l":1.3783,"c":1.3866,"d":-0.0036,"m":-0.0127,"s":-0.0091,"k":"D"},
{"t":"2026-05-18T08:00Z","o":1.3866,"h":1.3957,"l":1.3771,"c":1.39,"d":-0.0036,"m":-0.0137,"s":-0.0101,"k":"C"},
{"t":"2026-05-18T12:00Z","o":1.3903,"h":1.4014,"l":1.3694,"c":1.3763,"d":-0.0041,"m":-0.015,"s":-0.0109,"k":"D"},
{"t":"2026-05-18T16:00Z","o":1.3763,"h":1.3909,"l":1.3654,"c":1.3874,"d":-0.0035,"m":-0.0151,"s":-0.0116,"k":"C"},
{"t":"2026-05-18T20:00Z","o":1.388,"h":1.3971,"l":1.3826,"c":1.3906,"d":-0.0025,"m":-0.0147,"s":-0.0122,"k":"C"},
{"t":"2026-05-19T00:00Z","o":1.39,"h":1.3969,"l":1.3783,"c":1.3829,"d":-0.0023,"m":-0.015,"s":-0.0127,"k":"C"},
{"t":"2026-05-19T04:00Z","o":1.3829,"h":1.3891,"l":1.3786,"c":1.3886,"d":-0.0014,"m":-0.0145,"s":-0.0131,"k":"C"},
{"t":"2026-05-19T08:00Z","o":1.3886,"h":1.3887,"l":1.3691,"c":1.3717,"d":-0.0019,"m":-0.0155,"s":-0.0136,"k":"D"},
{"t":"2026-05-19T12:00Z","o":1.372,"h":1.3803,"l":1.3617,"c":1.3669,"d":-0.0022,"m":-0.0163,"s":-0.0141,"k":"D"},
{"t":"2026-05-19T16:00Z","o":1.3671,"h":1.3734,"l":1.3566,"c":1.3569,"d":-0.0028,"m":-0.0176,"s":-0.0148,"k":"D"},
{"t":"2026-05-19T20:00Z","o":1.3594,"h":1.3671,"l":1.3557,"c":1.3634,"d":-0.0027,"m":-0.0181,"s":-0.0154,"k":"C"},
{"t":"2026-05-20T00:00Z","o":1.3634,"h":1.3663,"l":1.3503,"c":1.3577,"d":-0.0027,"m":-0.0186,"s":-0.0159,"k":"C"},
{"t":"2026-05-20T04:00Z","o":1.3563,"h":1.3734,"l":1.3534,"c":1.3683,"d":-0.0015,"m":-0.0177,"s":-0.0162,"k":"C"},
{"t":"2026-05-20T08:00Z","o":1.368,"h":1.3746,"l":1.3643,"c":1.3649,"d":-0.0008,"m":-0.0171,"s":-0.0163,"k":"C"},
{"t":"2026-05-20T12:00Z","o":1.3646,"h":1.3803,"l":1.3586,"c":1.3746,"d":0.0004,"m":-0.0158,"s":-0.0162,"k":"A"},
{"t":"2026-05-20T16:00Z","o":1.3746,"h":1.38,"l":1.3657,"c":1.372,"d":0.0012,"m":-0.0148,"s":-0.016,"k":"A"},
{"t":"2026-05-20T20:00Z","o":1.3723,"h":1.3724,"l":1.3609,"c":1.3669,"d":0.0014,"m":-0.014,"s":-0.0154,"k":"A"},
{"t":"2026-05-21T00:00Z","o":1.3666,"h":1.3851,"l":1.3663,"c":1.3837,"d":0.0027,"m":-0.0119,"s":-0.0146,"k":"A"},
{"t":"2026-05-21T04:00Z","o":1.3837,"h":1.3849,"l":1.3694,"c":1.376,"d":0.003,"m":-0.0107,"s":-0.0137,"k":"A"},
{"t":"2026-05-21T08:00Z","o":1.3766,"h":1.3849,"l":1.3642,"c":1.3643,"d":0.0024,"m":-0.0108,"s":-0.0132,"k":"B"},
{"t":"2026-05-21T12:00Z","o":1.3643,"h":1.3683,"l":1.3523,"c":1.3609,"d":0.0018,"m":-0.0109,"s":-0.0127,"k":"B"},
{"t":"2026-05-21T16:00Z","o":1.3609,"h":1.3857,"l":1.3577,"c":1.38,"d":0.0027,"m":-0.0093,"s":-0.012,"k":"A"},
{"t":"2026-05-21T20:00Z","o":1.38,"h":1.3809,"l":1.3694,"c":1.3734,"d":0.0028,"m":-0.0084,"s":-0.0112,"k":"A"},
{"t":"2026-05-22T00:00Z","o":1.3737,"h":1.374,"l":1.3657,"c":1.3717,"d":0.0027,"m":-0.0078,"s":-0.0105,"k":"B"},
{"t":"2026-05-22T04:00Z","o":1.372,"h":1.3751,"l":1.3574,"c":1.3649,"d":0.0022,"m":-0.0078,"s":-0.01,"k":"B"},
{"t":"2026-05-22T08:00Z","o":1.3649,"h":1.3677,"l":1.356,"c":1.3614,"d":0.0015,"m":-0.0083,"s":-0.0098,"k":"B"},
{"t":"2026-05-22T12:00Z","o":1.3617,"h":1.3703,"l":1.348,"c":1.3529,"d":0.0007,"m":-0.0091,"s":-0.0098,"k":"B"},
{"t":"2026-05-22T16:00Z","o":1.3534,"h":1.3591,"l":1.3354,"c":1.3383,"d":-0.0009,"m":-0.0109,"s":-0.01,"k":"D"},
{"t":"2026-05-22T20:00Z","o":1.33965,"h":1.3427,"l":1.3369,"c":1.3427,"d":-0.00124,"m":-0.01156,"s":-0.01032,"k":"D"}
]
},
"vconcat":[
{
"width":3209,"height":54,
"data":{"values":[{"t":"2026-04-09T15:10Z","y":0.407,"label":"davidtevzadze45 created with TradingView.com, May 22, 2026 21:32 UTC"}]},
"mark":{"type":"text","align":"left","baseline":"middle","font":"Inter","fontSize":23.7,"color":"#cfcfcf"},
"encoding":{
"x":{"field":"t","type":"temporal","axis":null,"scale":{"type":"utc","domain":["2026-04-09T15:10Z","2026-05-26T19:41Z"]}},
"y":{"field":"y","type":"quantitative","axis":null,"scale":{"domain":[0,1]}},
"text":{"field":"label"}
}
},
{
"width":3209,"height":984,
"view":{"fill":"#0f0f0f","stroke":"#2c2c2c"},
"data":{"name":"bars"},
"encoding":{"x":{"field":"t","type":"temporal","title":null,"axis":null,"scale":{"type":"utc","padding":0,"domain":["2026-04-09T15:10Z","2026-05-26T19:41Z"]}}},
"layer":[
{"data":{"name":"days"},"mark":{"type":"rule","color":"#1d1d1d","strokeWidth":2}},
{"data":{"name":"pgrid"},"mark":{"type":"rule","color":"#1f1f1f","strokeWidth":2},
"encoding":{"x2":{"field":"t2"},"y":{"field":"p","type":"quantitative","scale":{"domain":[1.2956,1.5768],"nice":false,"zero":false},"title":null,
"axis":{"orient":"right","offset":-152,"values":[1.30,1.32,1.36,1.38,1.40,1.42,1.44,1.46,1.48,1.50,1.52,1.54,1.56],"format":".5f","grid":false,"ticks":false,"domain":false,"labelPadding":20,"labelOffset":3,"labelAlign":"left","labelBaseline":"middle","labelColor":"#b2b2b2","labelFont":"Inter","labelFontSize":24,"labelOverlap":false,"labelBound":false,"labelFlush":false}}}},
{"mark":{"type":"rule","strokeWidth":2},
"encoding":{"y":{"field":"l","type":"quantitative","title":null},"y2":{"field":"h"},"color":{"condition":{"test":"datum.c >= datum.o","value":"#089981"},"value":"#f23645"}}},
{"mark":{"type":"bar","size":8},
"encoding":{"y":{"field":"o","type":"quantitative","title":null},"y2":{"field":"c"},"color":{"condition":{"test":"datum.c >= datum.o","value":"#089981"},"value":"#f23645"}}},
{"data":{"values":[{"t":"2026-04-09T15:10Z","t2":"2026-05-24T14:08Z","p":1.3427}]},"mark":{"type":"rule","color":"#089981","strokeWidth":2,"strokeDash":[2.5,5.5]},
"encoding":{"x2":{"field":"t2"},"y":{"field":"p","type":"quantitative","title":null}}},
{"data":{"values":[{"t":"2026-05-24T14:53Z","t2":"2026-05-26T13:26Z","p":1.34734,"p2":1.32964}]},"mark":{"type":"rect","color":"#089981","cornerRadius":3},
"encoding":{"x2":{"field":"t2"},"y":{"field":"p","type":"quantitative","title":null},"y2":{"field":"p2"}}},
{"data":{"name":"pnote"},"mark":{"type":"text","align":"left","baseline":"middle","font":"Inter","fontSize":24},
"encoding":{"y":{"field":"p","type":"quantitative","title":null},"text":{"field":"label"},
"color":{"field":"k","type":"nominal","legend":null,"scale":{"domain":["gray","up","white","dim"],"range":["#b2b2b2","#089981","#ffffff","#c6e6df"]}}}},
{"data":{"values":[{"t":"2026-05-22T20:00Z","p":1.3031}]},"mark":{"type":"point","shape":"circle","size":1257,"filled":false,"color":"#a0559b","strokeWidth":3,"opacity":1},
"encoding":{"y":{"field":"p","type":"quantitative","title":null}}},
{"data":{"values":[{"t":"2026-05-22T20:00Z","p":1.3031}]},"mark":{"type":"point","shape":"M0.15,-0.5 L-0.35,0.1 L-0.02,0.05 L-0.15,0.5 L0.35,-0.1 L0.02,-0.05 Z","size":1680,"filled":true,"color":"#a0559b","opacity":1},
"encoding":{"y":{"field":"p","type":"quantitative","title":null}}}
]
},
{
"width":3209,"height":547,
"view":{"fill":"#0f0f0f","stroke":"#2c2c2c"},
"data":{"name":"bars"},
"encoding":{"x":{"field":"t","type":"temporal","title":null,"scale":{"type":"utc","padding":0,"domain":["2026-04-09T15:10Z","2026-05-26T19:41Z"]},
"axis":{"orient":"bottom","offset":-55,"values":["2026-04-11T00:00Z","2026-04-13T00:00Z","2026-04-15T00:00Z","2026-04-17T00:00Z","2026-04-19T00:00Z","2026-04-21T00:00Z","2026-04-23T00:00Z","2026-04-25T00:00Z","2026-04-27T00:00Z","2026-04-29T00:00Z","2026-05-01T00:00Z","2026-05-03T00:00Z","2026-05-05T00:00Z","2026-05-07T00:00Z","2026-05-09T00:00Z","2026-05-11T00:00Z","2026-05-13T00:00Z","2026-05-15T00:00Z","2026-05-17T00:00Z","2026-05-19T00:00Z","2026-05-21T00:00Z","2026-05-23T00:00Z"],
"labelExpr":"utcdate(datum.value) == 1 ? 'May' : '' + utcdate(datum.value)","labelFontWeight":{"condition":{"test":"utcdate(datum.value) == 1","value":600},"value":400},"grid":false,"ticks":false,"domain":false,"labelPadding":18,"labelBaseline":"middle","labelColor":"#b2b2b2","labelFont":"Inter","labelFontSize":24,"labelOverlap":false,"labelBound":false,"labelFlush":false}}},
"layer":[
{"data":{"name":"days"},"mark":{"type":"rule","color":"#1d1d1d","strokeWidth":2},
"encoding":{"y":{"datum":0.03735,"type":"quantitative","title":null},"y2":{"datum":-0.0234}}},
{"data":{"name":"mgrid"},"mark":{"type":"rule","color":"#1f1f1f","strokeWidth":2},
"encoding":{"x2":{"field":"t2"},"y":{"field":"p","type":"quantitative","scale":{"domain":[-0.03018,0.03735],"nice":false,"zero":false},"title":null,
"axis":{"orient":"right","offset":-152,"values":[0.03,0.02,0.01,0,-0.02],"format":".5f","grid":false,"ticks":false,"domain":false,"labelPadding":20,"labelOffset":2,"labelAlign":"left","labelBaseline":"middle","labelColor":"#b2b2b2","labelFont":"Inter","labelFontSize":24,"labelOverlap":false,"labelBound":false,"labelFlush":false}}}},
{"mark":{"type":"bar","size":8},
"encoding":{"y":{"field":"d","type":"quantitative","stack":null,"title":null},"y2":{"datum":0},
"color":{"field":"k","type":"nominal","legend":null,"scale":{"domain":["A","B","C","D","gray","blue","orange"],"range":["#26a69a","#b2dfdb","#ffcdd2","#ff5252","#b2b2b2","#2962ff","#ff6d00"]}}}},
{"data":{"values":[{"t":"2026-04-09T15:10Z","t2":"2026-05-24T14:08Z","p":0}]},"mark":{"type":"rule","color":"#787878","strokeWidth":2,"strokeDash":[10,12],"opacity":0.7},
"encoding":{"x2":{"field":"t2"},"y":{"field":"p","type":"quantitative","title":null}}},
{"mark":{"type":"line","color":"#2962ff","strokeWidth":2},"encoding":{"y":{"field":"m","type":"quantitative","title":null}}},
{"mark":{"type":"line","color":"#ff6d00","strokeWidth":2},"encoding":{"y":{"field":"s","type":"quantitative","title":null}}},
{"data":{"name":"mtags"},"mark":{"type":"rect","cornerRadius":3},
"encoding":{"x2":{"field":"t2"},"y":{"field":"p","type":"quantitative","title":null},"y2":{"field":"p2"},"color":{"field":"k","type":"nominal","legend":null}}},
{"data":{"name":"mtagtext"},"mark":{"type":"text","align":"left","baseline":"middle","font":"Inter","fontSize":24,"color":"#ffffff"},
"encoding":{"y":{"field":"p","type":"quantitative","title":null},"text":{"field":"label"}}},
{"data":{"name":"mnote"},"mark":{"type":"text","align":"left","baseline":"middle","font":"Inter","fontSize":24},
"encoding":{"y":{"field":"p","type":"quantitative","title":null},"text":{"field":"label"},"color":{"field":"k","type":"nominal","legend":null}}}
]
},
{
"width":3229,"height":121,
"encoding":{"x":{"field":"t","type":"temporal","axis":null,"scale":{"type":"utc","domain":["2026-04-09T15:10Z","2026-05-27T02:48Z"]}},
"y":{"field":"y","type":"quantitative","axis":null,"scale":{"domain":[0,1]}}},
"layer":[
{"data":{"values":[{"t":"2026-04-10T18:00Z","y":0.479,"label":"TradingView"}]},"mark":{"type":"text","align":"left","baseline":"middle","font":"Inter","fontSize":39.5,"fontWeight":600,"color":"#ececec"},"encoding":{"text":{"field":"label"}}},
{"data":{"values":[{"t":"2026-05-23T21:10Z","y":0.215,"label":"@DavidTheBuilder"}]},"mark":{"type":"text","align":"left","baseline":"middle","font":"Inter","fontSize":24,"color":"#c8c8c8"},"encoding":{"text":{"field":"label"}}},
{"data":{"values":[{"t":"2026-04-10T03:10Z","y":0.504}]},"mark":{"type":"point","filled":true,"opacity":1,"color":"#ececec","size":18496,"shape":"M-0.111,-0.208 H-0.444 V-0.042 H-0.278 V0.208 H-0.111 Z M0.278,0.208 H0.083 L0.278,-0.208 H0.472 Z M0.139,-0.125 A0.083,0.083 0 1 1 -0.027,-0.125 A0.083,0.083 0 1 1 0.139,-0.125 Z"}},
{"data":{"values":[{"t":"2026-05-23T13:45Z","y":0.215}]},"mark":{"type":"point","filled":false,"opacity":1,"color":"#c8c8c8","strokeWidth":3,"shape":"diamond","size":260}}
]
}
]
}
